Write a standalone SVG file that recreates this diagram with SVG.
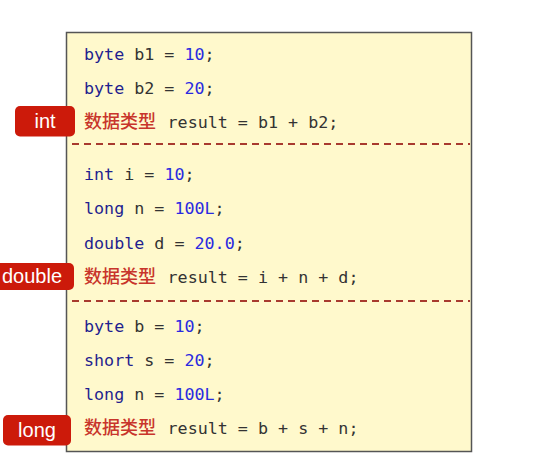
<svg xmlns="http://www.w3.org/2000/svg" width="533" height="464" viewBox="0 0 533 464">
<style>
.code{font-family:"DejaVu Sans Mono","Liberation Mono",monospace;font-size:16.7px;fill:#333333}
.kw{fill:#1f1f8f}
.num{fill:#2a2ae0}
.cjk{font-family:"Noto Sans CJK SC",sans-serif;font-size:18px;font-weight:500;fill:#c8352b}
.sep{stroke:#a83a2e;stroke-width:2;stroke-dasharray:7 5}
.tag{fill:#cc1a0a}
.tagt{font-family:"Liberation Sans",Arial,sans-serif;font-size:20px;fill:#ffffff;text-anchor:middle}
</style>
<rect width="533" height="464" fill="#ffffff"/>
<g id="panel">
<rect x="66.5" y="32.5" width="405" height="419" fill="#fff9cc" stroke="#555555" stroke-width="1.5"/>
</g>
<g id="separators">
<line class="sep" x1="72" y1="144" x2="470" y2="144"/>
<line class="sep" x1="72" y1="301" x2="470" y2="301"/>
</g>
<g id="block1">
<text class="code" x="84" y="60"><tspan class="kw">byte</tspan> b1 = <tspan class="num">10</tspan>;</text>
<text class="code" x="84" y="94"><tspan class="kw">byte</tspan> b2 = <tspan class="num">20</tspan>;</text>
<text class="code" x="84" y="128"><tspan class="cjk">数据类型</tspan><tspan x="157.5"> result = b1 + b2;</tspan></text>
</g>
<g id="block2">
<text class="code" x="84" y="180"><tspan class="kw">int</tspan> i = <tspan class="num">10</tspan>;</text>
<text class="code" x="84" y="214"><tspan class="kw">long</tspan> n = <tspan class="num">100L</tspan>;</text>
<text class="code" x="84" y="248.5"><tspan class="kw">double</tspan> d = <tspan class="num">20.0</tspan>;</text>
<text class="code" x="84" y="283"><tspan class="cjk">数据类型</tspan><tspan x="157.5"> result = i + n + d;</tspan></text>
</g>
<g id="block3">
<text class="code" x="84" y="332"><tspan class="kw">byte</tspan> b = <tspan class="num">10</tspan>;</text>
<text class="code" x="84" y="366"><tspan class="kw">short</tspan> s = <tspan class="num">20</tspan>;</text>
<text class="code" x="84" y="400"><tspan class="kw">long</tspan> n = <tspan class="num">100L</tspan>;</text>
<text class="code" x="84" y="434"><tspan class="cjk">数据类型</tspan><tspan x="157.5"> result = b + s + n;</tspan></text>
</g>
<g id="tag-int">
<rect class="tag" x="15" y="106" width="60" height="30.5" rx="5"/>
<text class="tagt" x="45" y="128">int</text>
</g>
<g id="tag-double">
<rect class="tag" x="-4" y="263" width="78" height="27" rx="5"/>
<text class="tagt" x="32" y="283">double</text>
</g>
<g id="tag-long">
<rect class="tag" x="3" y="415" width="68" height="30.5" rx="5"/>
<text class="tagt" x="37" y="437">long</text>
</g>
</svg>
